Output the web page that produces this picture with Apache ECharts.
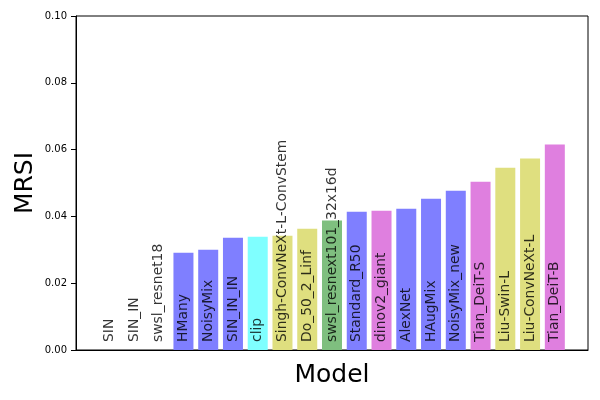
<!DOCTYPE html>
<html>
<head>
<meta charset="utf-8">
<script src="https://cdn.jsdelivr.net/npm/echarts@6/dist/echarts.min.js"></script>
<style>html,body{margin:0;padding:0;background:#fff}#c{width:600px;height:400px}</style>
</head>
<body>
<div id="c"></div>
<script>
const categories = ["SIN","SIN_IN","swsl_resnet18","HMany","NoisyMix","SIN_IN_IN","clip",
  "Singh-ConvNeXt-L-ConvStem","Do_50_2_Linf","swsl_resnext101_32x16d","Standard_R50","dinov2_giant",
  "AlexNet","HAugMix","NoisyMix_new","Tian_DeiT-S","Liu-Swin-L","Liu-ConvNeXt-L","Tian_DeiT-B"];
const values = [0, 0, 0, 0.0291, 0.0300, 0.0336, 0.0339, 0.0342, 0.0363, 0.0388, 0.0414, 0.0417,
  0.0423, 0.0453, 0.0477, 0.0504, 0.0546, 0.0573, 0.0615];
const groups = ["b","b","g","b","b","b","c","y","y","g","b","m","b","b","b","m","y","y","m"];
const yTicks = [0, 0.02, 0.04, 0.06, 0.08, 0.10];

const palette = {b:"#7f7fff", c:"#7fffff", y:"#dfdf7f", g:"#7fbf7f", m:"#df7fdf"};
const font = "DejaVu Sans";

const barData = values.map((v,i)=>({value:[i,v], itemStyle:{color:palette[groups[i]]}}));
const labelData = categories.map((c,i)=>({value:[i,0], name:c}));

const chart = echarts.init(document.getElementById('c'), null, {renderer:'canvas'});
chart.setOption({
  animation:false,
  backgroundColor:'#fff',
  grid:{left:76, right:12, top:16, bottom:50, show:true, borderColor:'#000', borderWidth:1, backgroundColor:'transparent'},
  xAxis:{type:'value', min:-1.34, max:19.34, name:'Model', nameLocation:'middle', nameGap:13,
    nameMoveOverlap:false,
    nameTextStyle:{fontFamily:font, fontSize:25, color:'#000', verticalAlign:'top'},
    axisLine:{show:true, onZero:false, lineStyle:{color:'#000', width:1}}, axisTick:{show:false}, axisLabel:{show:false}, splitLine:{show:false}},
  yAxis:{type:'value', min:0, max:0.1, interval:0.02, name:'MRSI', nameLocation:'middle', nameGap:38,
    nameMoveOverlap:false,
    nameTextStyle:{fontFamily:font, fontSize:25, color:'#000'},
    axisLine:{show:true, onZero:false, lineStyle:{color:'#000', width:1}},
    axisTick:{show:true, length:5, lineStyle:{color:'#000'}},
    axisLabel:{fontFamily:font, fontSize:10, color:'#000', margin:9,
      formatter:v=>{const t=yTicks.find(x=>Math.abs(x-v)<1e-9);return (t!==undefined?t:v).toFixed(2);}},
    splitLine:{show:false}},
  series:[
    {type:'bar', data:barData, barWidth:20, silent:true},
    {type:'scatter', data:labelData, symbolSize:0, silent:true, z:5,
      label:{show:true, position:'top', distance:8, rotate:90, align:'left', verticalAlign:'middle',
        formatter:p=>p.name, fontFamily:font, fontSize:13.9, color:'#000'}}
  ]
});
</script>
</body>
</html>
